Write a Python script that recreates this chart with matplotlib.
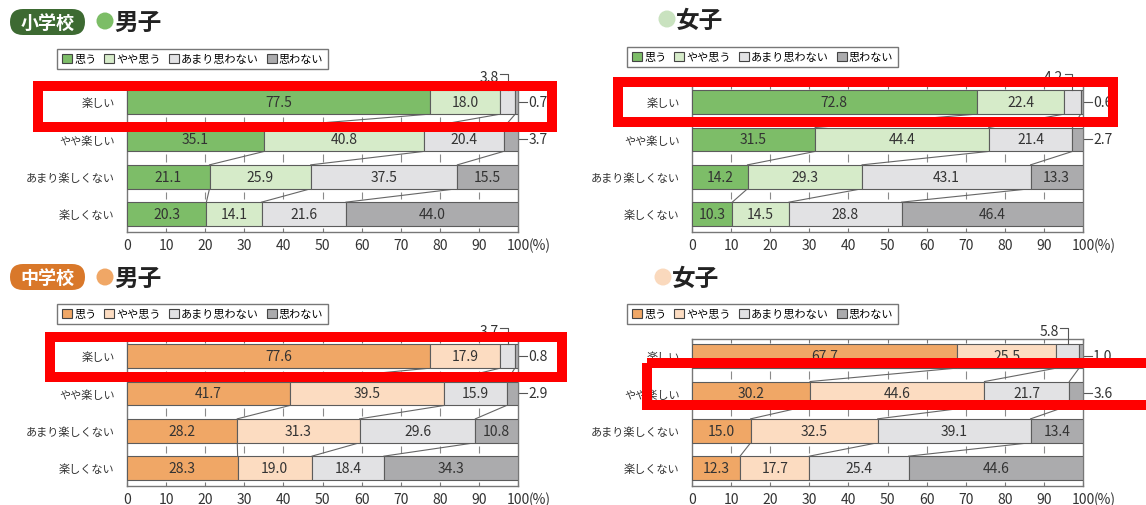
import matplotlib.pyplot as plt
import numpy as np
from matplotlib.patches import Circle, FancyBboxPatch, Patch, Rectangle

plt.rcParams["font.family"] = ["Noto Sans CJK JP", "DejaVu Sans"]

ROWS = ["楽しい", "やや楽しい", "あまり楽しくない", "楽しくない"]
ANSWERS = ["思う", "やや思う", "あまり思わない", "思わない"]
TICKS = [0, 10, 20, 30, 40, 50, 60, 70, 80, 90, 100]

# 小学校 (%), one row per ROWS entry, columns follow ANSWERS
elem_boys = [[77.5, 18.0, 3.8, 0.7],
             [35.1, 40.8, 20.4, 3.7],
             [21.1, 25.9, 37.5, 15.5],
             [20.3, 14.1, 21.6, 44.0]]
elem_girls = [[72.8, 22.4, 4.2, 0.6],
              [31.5, 44.4, 21.4, 2.7],
              [14.2, 29.3, 43.1, 13.3],
              [10.3, 14.5, 28.8, 46.4]]
# 中学校
junior_boys = [[77.6, 17.9, 3.7, 0.8],
               [41.7, 39.5, 15.9, 2.9],
               [28.2, 31.3, 29.6, 10.8],
               [28.3, 19.0, 18.4, 34.3]]
junior_girls = [[67.7, 25.5, 5.8, 1.0],
                [30.2, 44.6, 21.7, 3.6],
                [15.0, 32.5, 39.1, 13.4],
                [12.3, 17.7, 25.4, 44.6]]

GREENS = ["#7dbd68", "#d6ebc9", "#e2e2e4", "#ababad"]
ORANGES = ["#f0a766", "#fcdcc1", "#e2e2e4", "#ababad"]

W, H = 1146, 506
BAR_H = 0.64
EDGE = "#5c5c5c"
TXT = "#333333"


def px_rect(left, top, right, bottom):
    return [left / W, 1 - bottom / H, (right - left) / W, (bottom - top) / H]


def draw_panel(ax, values, colors):
    values = np.array(values)
    cum = np.hstack([np.zeros((len(ROWS), 1)), np.cumsum(values, axis=1)])
    y = np.arange(len(ROWS))

    for k in range(len(ANSWERS)):
        ax.barh(y, values[:, k], left=cum[:, k], height=BAR_H,
                color=colors[k], edgecolor=EDGE, linewidth=0.8, zorder=3)
        for i in y:
            v = values[i, k]
            if v >= 6:
                ax.text(cum[i, k] + v / 2, i, f"{v:.1f}", ha="center", va="center",
                        fontsize=10, color=TXT, zorder=4)
            elif k == 3:
                # tiny share: label outside the frame on the right
                ax.plot([100, 102.2], [i, i], color="#555555", lw=0.8, clip_on=False)
                ax.text(102.6, i, f"{v:.1f}", ha="left", va="center",
                        fontsize=10, color=TXT)
            elif k == 2:
                # tiny share: label above the bar with a bracket
                mid = cum[i, k] + v / 2
                ty = i - 0.76
                ax.plot([mid - 2.0, mid, mid], [ty, ty, i - BAR_H / 2],
                        color="#555555", lw=0.8, clip_on=False, zorder=4)
                ax.text(mid - 2.3, ty + 0.08, f"{v:.1f}", ha="right", va="center",
                        fontsize=10, color=TXT)

    # lines joining the category boundaries of neighbouring rows
    for i in range(len(ROWS) - 1):
        for k in range(1, len(ANSWERS)):
            ax.plot([cum[i, k], cum[i + 1, k]],
                    [i + BAR_H / 2, i + 1 - BAR_H / 2],
                    color="#666666", lw=0.8, zorder=2)
        ax.vlines(TICKS[1:-1], i + BAR_H / 2 + 0.08, i + 1 - BAR_H / 2 - 0.08,
                  color="#8a8a8a", lw=0.8, zorder=1)

    ax.set_xlim(0, 100)
    ax.set_ylim(len(ROWS) - 1 + 0.48, -0.46)
    ax.set_yticks(y)
    ax.set_yticklabels(ROWS, fontsize=8, color=TXT)
    ax.tick_params(axis="y", length=0, pad=9)
    ax.set_xticks(TICKS)
    ax.set_xticklabels([str(t) for t in TICKS], fontsize=10, color=TXT)
    ax.tick_params(axis="x", direction="in", top=True, bottom=True, length=3,
                   color="#777777", pad=4)
    ax.annotate("(%)", xy=(100, 0), xycoords=("data", "axes fraction"),
                xytext=(8, -4), textcoords="offset points", ha="left", va="top",
                fontsize=10, color=TXT)
    for s in ax.spines.values():
        s.set_color("#777777")
        s.set_linewidth(1.0)


def add_legend(fig, colors, left, top):
    handles = [Patch(facecolor=c, edgecolor="#444444", linewidth=0.8) for c in colors]
    leg = fig.legend(handles, ANSWERS, ncol=4, loc="upper left",
                     bbox_to_anchor=(left / W, 1 - top / H), borderaxespad=0,
                     fontsize=8, frameon=True, fancybox=False,
                     handlelength=0.9, handleheight=0.9, handletextpad=0.2,
                     columnspacing=0.7, borderpad=0.45)
    leg.get_frame().set_edgecolor("#555555")
    leg.get_frame().set_linewidth(1.0)


fig = plt.figure(figsize=(W / 100, H / 100), dpi=100)
fig.patch.set_facecolor("white")

panels = [
    (elem_boys, GREENS, px_rect(127, 86, 518, 233), (57, 50)),
    (elem_girls, GREENS, px_rect(692, 86, 1083, 233), (627, 48)),
    (junior_boys, ORANGES, px_rect(127, 340, 518, 487), (57, 305)),
    (junior_girls, ORANGES, px_rect(692, 340, 1083, 487), (627, 305)),
]
for values, colors, rect, (lx, ly) in panels:
    ax = fig.add_axes(rect)
    draw_panel(ax, values, colors)
    add_legend(fig, colors, lx, ly)

# headings and highlight boxes, in pixel units
ov = fig.add_axes([0, 0, 1, 1], zorder=10)
ov.set_xlim(0, W)
ov.set_ylim(H, 0)
ov.axis("off")
ov.patch.set_visible(False)

for top, school, dark in [(10, "小学校", "#3d6a32"), (265, "中学校", "#d9782a")]:
    ov.add_patch(FancyBboxPatch((10, top), 75, 26,
                                boxstyle="round,pad=0,rounding_size=13",
                                facecolor=dark, edgecolor="none"))
    ov.text(47.5, top + 13, school, ha="center", va="center", fontsize=13,
            fontweight="bold", color="white")

headings = [
    (105, 22, "#7cbd66", "男子"),
    (667, 20, "#c9e2bf", "女子"),
    (105, 278, "#f0a766", "男子"),
    (663, 278, "#fad9bd", "女子"),
]
for cx, cy, col, label in headings:
    ov.add_patch(Circle((cx, cy), 8.5, facecolor=col, edgecolor="none"))
    ov.text(cx + 9, cy + 1, label, ha="left", va="center", fontsize=17,
            fontweight="bold", color="#222222")

highlights = [
    (38, 87, 552, 128),
    (618, 83, 1113, 123),
    (50, 338, 562, 378),
    (647, 364, 1165, 406),
]
for x0, y0, x1, y1 in highlights:
    ov.add_patch(Rectangle((x0, y0), x1 - x0, y1 - y0, fill=False,
                           edgecolor="#ff0000", linewidth=7.2, clip_on=False))

fig.savefig("out.png", dpi=100)
